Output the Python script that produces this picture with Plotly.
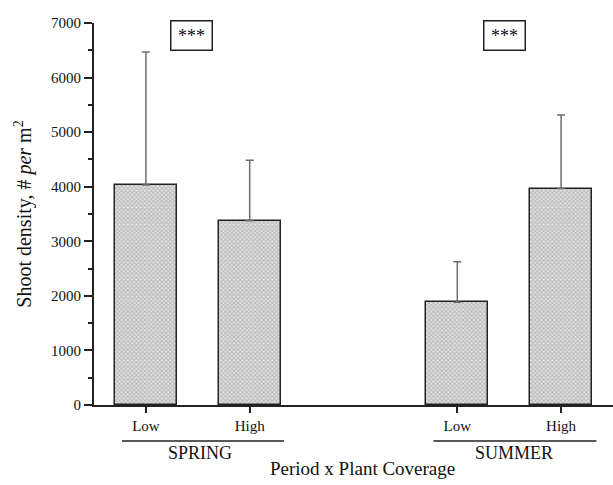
import plotly.graph_objects as go

# Data
x_pos = [0, 1, 3, 4]
coverage = ["Low", "High", "Low", "High"]
periods = ["SPRING", "SUMMER"]
density = [4030, 3377, 1882, 3966]
err_plus = [2440, 1110, 745, 1350]
sig_labels = ["***", "***"]

FONT = "Liberation Serif, Times New Roman, serif"

fig = go.Figure()
fig.add_trace(go.Bar(
    x=x_pos, y=density, width=0.6,
    marker=dict(color="#d8d8d8",
                line=dict(color="#222", width=1.5),
                pattern=dict(shape="x", size=3, solidity=0.5, fgcolor="#8a8a8a", bgcolor="#e2e2e2")),
    error_y=dict(type="data", array=err_plus, symmetric=False, arrayminus=[0]*4,
                 color="#6e6e6e", thickness=1.5, width=4),
    showlegend=False,
))

fig.update_layout(
    width=613, height=485,
    margin=dict(l=94, r=0, t=23, b=80),
    plot_bgcolor="white", paper_bgcolor="white",
    font=dict(family=FONT, size=15, color="#111"),
    bargap=0,
)
fig.update_xaxes(range=[-0.5, 4.5], tickvals=x_pos, ticktext=coverage,
                 showline=True, linecolor="#222", linewidth=2,
                 ticks="outside", ticklen=6, tickwidth=2, tickcolor="#222",
                 showgrid=False, zeroline=False, tickfont=dict(size=15))
fig.update_yaxes(range=[0, 7000], dtick=1000, showline=True, linecolor="#222", linewidth=2,
                 ticks="outside", ticklen=8, tickwidth=2, tickcolor="#222",
                 minor=dict(dtick=500, ticks="outside", ticklen=4, tickwidth=1.5, tickcolor="#222"),
                 showgrid=False, zeroline=False, tickfont=dict(size=15),
                 title=dict(text="Shoot density, # <i>per</i> m<sup>2</sup>", font=dict(size=20), standoff=14))

# group lines and labels
groups = [(-0.23, 1.33, 0.52), (2.77, 4.34, 3.55)]
for (x0, x1, xc), name in zip(groups, periods):
    fig.add_shape(type="line", xref="x", yref="paper", x0=x0, x1=x1, y0=-0.094, y1=-0.094,
                  line=dict(color="#222", width=1.5))
    fig.add_annotation(xref="x", yref="paper", x=xc, y=-0.125, text=name, showarrow=False,
                       yanchor="middle", font=dict(size=18))

fig.add_annotation(xref="paper", yref="paper", x=(363-94)/519, y=-0.165, text="Period x Plant Coverage",
                   showarrow=False, yanchor="middle", font=dict(size=19))

for xc, lab in zip([0.4375, 3.45], sig_labels):
    fig.add_annotation(xref="x", yref="y", x=xc, y=6770, text=lab, showarrow=False,
                       width=40, height=28, borderwidth=1.5, bordercolor="#222", borderpad=0,
                       font=dict(size=18), bgcolor="white")

fig.write_html("out.html")
